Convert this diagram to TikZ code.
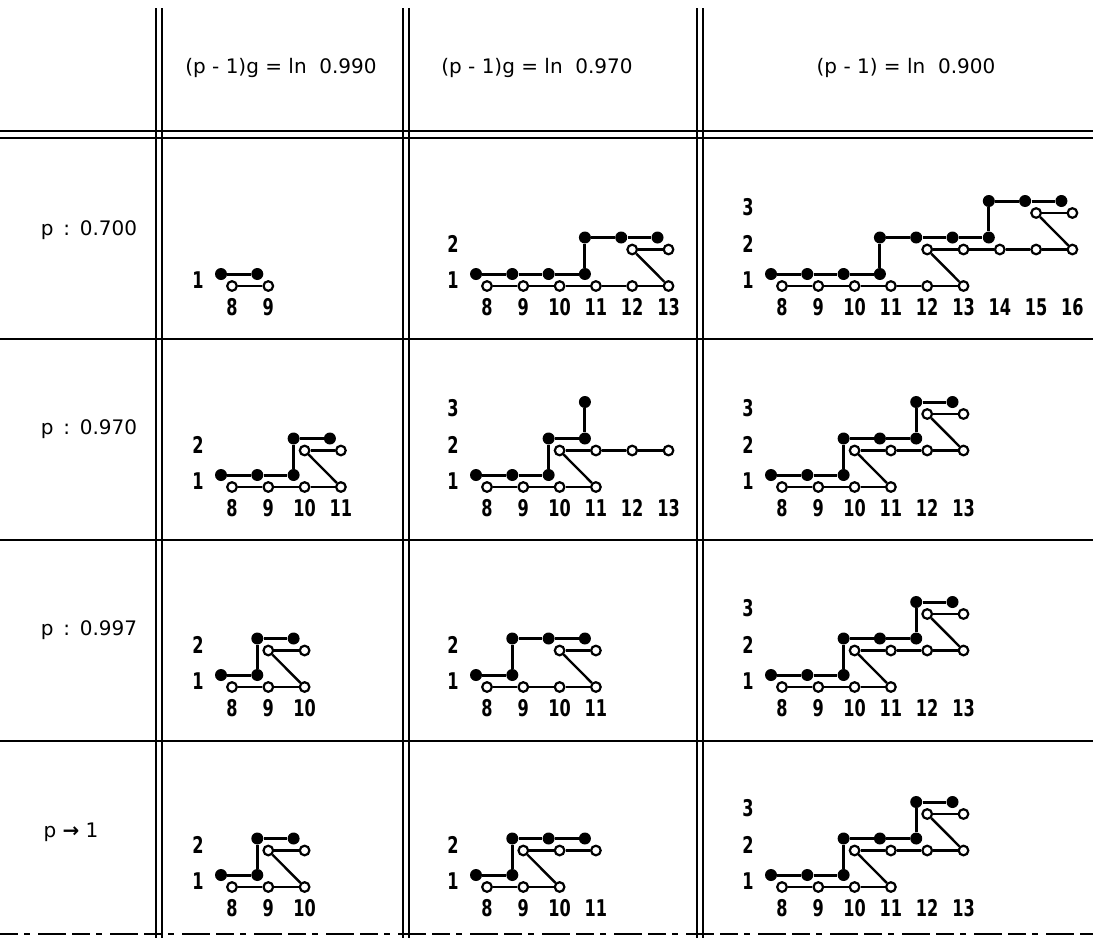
\documentclass[tikz,border=0pt]{standalone}
\usepackage{fontspec}
\setmainfont{DejaVu Sans}
\newfontfamily\numfont{DejaVu Sans Condensed}
\usetikzlibrary{calc}

\newcommand{\ddx}{36.3}
\newcommand{\ddy}{36.5}
\newcommand{\narrow}[1]{\scalebox{0.78}[1]{#1}}
\tikzset{
  fdot/.style={circle, fill=black, inner sep=0pt, minimum size=6pt},
  odot/.style={circle, draw=black, fill=white, line width=1.1pt, inner sep=0pt, minimum size=4.8pt},
  fline/.style={line width=1.5pt},
  oline/.style={line width=1.2pt},
  grid/.style={line width=1pt},
  lvl/.style={font=\numfont\fontsize{11.5}{11.5}\selectfont\bfseries, inner sep=0pt},
  num/.style={font=\numfont\fontsize{11.5}{11.5}\selectfont\bfseries, inner sep=0pt},
  head/.style={font=\fontsize{10}{10}\selectfont, inner sep=0pt},
  rowlab/.style={font=\fontsize{10}{10}\selectfont, inner sep=0pt}
}
% filled staircase run on one level
\newcommand{\frun}[3]{%
  \foreach \i [remember=\i as \prev (initially 0)] in {#2,...,#3}{
    \node[fdot] (\cn f\i-#1) at ({(\i-8)*\ddx-11},{-(#1-1)*\ddy-12}) {};
    \ifnum\prev>0 \draw[fline] (\cn f\prev-#1) -- (\cn f\i-#1);\fi
  }}
% open run on one level
\newcommand{\orun}[3]{%
  \foreach \i [remember=\i as \prev (initially 0)] in {#2,...,#3}{
    \node[odot] (\cn o\i-#1) at ({(\i-8)*\ddx},{-(#1-1)*\ddy}) {};
    \ifnum\prev>0 \draw[oline] (\cn o\prev-#1) -- (\cn o\i-#1);\fi
  }}
\newcommand{\up}[2]{\pgfmathtruncatemacro{\nxt}{#2+1}\draw[fline] (\cn f#1-#2) -- (\cn f#1-\nxt);}
\newcommand{\diag}[4]{\draw[oline] (\cn o#1-#2) -- (\cn o#3-#4);}
\newcommand{\levels}[1]{\foreach \lv in {1,...,#1} \node[lvl] (\cn l\lv) at (-34,{-(\lv-1)*\ddy-6}) {\narrow{\lv}};}
\newcommand{\ticks}[1]{\foreach \i in {8,...,#1} \node[num] (\cn t\i) at ({(\i-8)*\ddx},21) {\narrow{\i}};}
\newcommand{\cell}[4]{\begin{scope}[shift={(#2,#3)}]\def\cn{#1}#4\end{scope}}

\begin{document}
\begin{tikzpicture}[x=0.5pt, y=-0.5pt]
\useasboundingbox (0,0) rectangle (1093,938);

% table rules
\draw[grid] (0,131) -- (1093,131);
\draw[grid] (0,138) -- (1093,138);
\foreach \y in {339,540,741} \draw[grid] (0,\y) -- (1093,\y);
\draw[grid, dash pattern=on 9pt off 3pt on 3pt off 4pt on 14pt off 3pt] (0,934) -- (1093,934);
\foreach \x in {156,162,403,409,697,703} \draw[grid] (\x,8) -- (\x,938);

% headings
\node[head] (h1) at (281,68) {(p - 1)g = ln\ \ 0.990};
\node[head] (h2) at (537,68) {(p - 1)g = ln\ \ 0.970};
\node[head] (h3) at (906,68) {(p - 1) = ln\ \ 0.900};
\node[rowlab] (r1) at (89,230) {p\ \,:\ \,0.700};
\node[rowlab] (r2) at (89,429) {p\ \,:\ \,0.970};
\node[rowlab] (r3) at (89,630) {p\ \,:\ \,0.997};
\node[rowlab] (r4) at (71,832) {p \textbf{→} 1};

% row p = 0.700
\cell{aa}{232}{286}{\frun{1}{8}{9} \orun{1}{8}{9} \levels{1} \ticks{9}}
\cell{ab}{487}{286}{\frun{1}{8}{11} \frun{2}{11}{13} \up{11}{1}
  \orun{1}{8}{13} \orun{2}{12}{13} \diag{12}{2}{13}{1} \levels{2} \ticks{13}}
\cell{ac}{782}{286}{\frun{1}{8}{11} \frun{2}{11}{14} \frun{3}{14}{16} \up{11}{1} \up{14}{2}
  \orun{1}{8}{13} \orun{2}{12}{16} \orun{3}{15}{16} \diag{12}{2}{13}{1} \diag{15}{3}{16}{2}
  \levels{3} \ticks{16}}

% row p = 0.970
\cell{ba}{232}{487}{\frun{1}{8}{10} \frun{2}{10}{11} \up{10}{1}
  \orun{1}{8}{11} \orun{2}{10}{11} \diag{10}{2}{11}{1} \levels{2} \ticks{11}}
\cell{bb}{487}{487}{\frun{1}{8}{10} \frun{2}{10}{11} \frun{3}{11}{11} \up{10}{1} \up{11}{2}
  \orun{1}{8}{11} \orun{2}{10}{13} \diag{10}{2}{11}{1} \levels{3} \ticks{13}}
\cell{bc}{782}{487}{\frun{1}{8}{10} \frun{2}{10}{12} \frun{3}{12}{13} \up{10}{1} \up{12}{2}
  \orun{1}{8}{11} \orun{2}{10}{13} \orun{3}{12}{13} \diag{10}{2}{11}{1} \diag{12}{3}{13}{2}
  \levels{3} \ticks{13}}

% row p = 0.997
\cell{ca}{232}{687}{\frun{1}{8}{9} \frun{2}{9}{10} \up{9}{1}
  \orun{1}{8}{10} \orun{2}{9}{10} \diag{9}{2}{10}{1} \levels{2} \ticks{10}}
\cell{cb}{487}{687}{\frun{1}{8}{9} \frun{2}{9}{11} \up{9}{1}
  \orun{1}{8}{11} \orun{2}{10}{11} \diag{10}{2}{11}{1} \levels{2} \ticks{11}}
\cell{cc}{782}{687}{\frun{1}{8}{10} \frun{2}{10}{12} \frun{3}{12}{13} \up{10}{1} \up{12}{2}
  \orun{1}{8}{11} \orun{2}{10}{13} \orun{3}{12}{13} \diag{10}{2}{11}{1} \diag{12}{3}{13}{2}
  \levels{3} \ticks{13}}

% row p -> 1
\cell{da}{232}{887}{\frun{1}{8}{9} \frun{2}{9}{10} \up{9}{1}
  \orun{1}{8}{10} \orun{2}{9}{10} \diag{9}{2}{10}{1} \levels{2} \ticks{10}}
\cell{db}{487}{887}{\frun{1}{8}{9} \frun{2}{9}{11} \up{9}{1}
  \orun{1}{8}{10} \orun{2}{9}{11} \diag{9}{2}{10}{1} \levels{2} \ticks{11}}
\cell{dc}{782}{887}{\frun{1}{8}{10} \frun{2}{10}{12} \frun{3}{12}{13} \up{10}{1} \up{12}{2}
  \orun{1}{8}{11} \orun{2}{10}{13} \orun{3}{12}{13} \diag{10}{2}{11}{1} \diag{12}{3}{13}{2}
  \levels{3} \ticks{13}}
\end{tikzpicture}
\end{document}
